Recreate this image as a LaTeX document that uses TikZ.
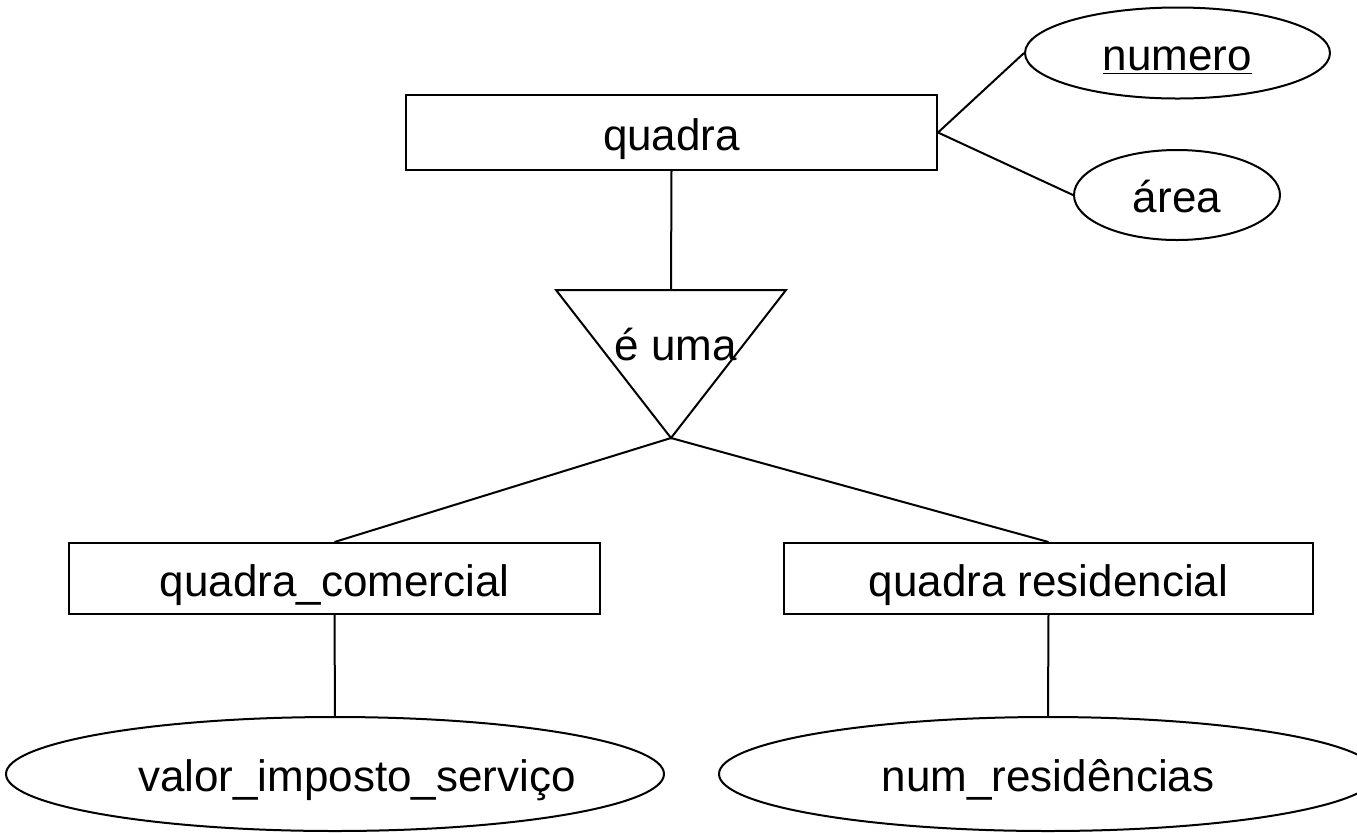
\documentclass[tikz,border=0pt]{standalone}
\usepackage{fontspec}
\setmainfont{Liberation Sans}
\usetikzlibrary{shapes.geometric}
\begin{document}
\begin{tikzpicture}[x=0.5pt,y=-0.5pt, line width=1pt,
  txt/.style={font=\fontsize{22}{26}\selectfont, text height=22pt, text depth=4.5pt},
  entity/.style={draw, rectangle, inner sep=0pt, minimum width=265.5pt, txt},
  attr/.style={draw, ellipse, inner sep=0pt, txt},
  lbl/.style={inner sep=0pt, font=\fontsize{22}{26}\selectfont},
  conn/.style={draw, line width=1pt}]
\useasboundingbox (0,0) rectangle (1357,832);
% entities
\node[entity, minimum height=37.5pt] (quadra) at (671.5,132.5) {quadra};
\node[entity, minimum height=35.5pt] (qc) at (334.5,578.5) {quadra\_comercial};
\node[entity, minimum height=35.5pt, minimum width=264.5pt] (qr) at (1048.5,578.5) {quadra residencial};
% attributes
\node[attr, minimum width=152.5pt, minimum height=45.5pt] (numero) at (1177.5,53) {\underline{numero}};
\node[attr, minimum width=103pt, minimum height=45pt] (area) at (1177,195) {área};
\node[attr, minimum width=329pt, minimum height=57pt] (valor) at (335,774) {\makebox[0pt]{\hspace{22pt}valor\_imposto\_serviço}};
\node[attr, minimum width=329pt, minimum height=57pt] (numres) at (1048,774) {num\_residências};
% specialization triangle
\coordinate (tl) at (556,290);
\coordinate (tr) at (786,290);
\coordinate (isatop) at (671,290);
\coordinate (apex) at (671,438);
\draw (tl) -- (tr) -- (apex) -- cycle;
\node[lbl, anchor=base] (isa) at (676,360) {é uma};
% connectors
\draw[conn] (quadra.east) -- (numero.west);
\draw[conn] (quadra.east) -- (area.west);
\draw[conn] (quadra.south) -- (isatop);
\draw[conn] (apex) -- (qc.north);
\draw[conn] (apex) -- (qr.north);
\draw[conn] (qc.south) -- (valor.north);
\draw[conn] (qr.south) -- (numres.north);
\end{tikzpicture}
\end{document}
